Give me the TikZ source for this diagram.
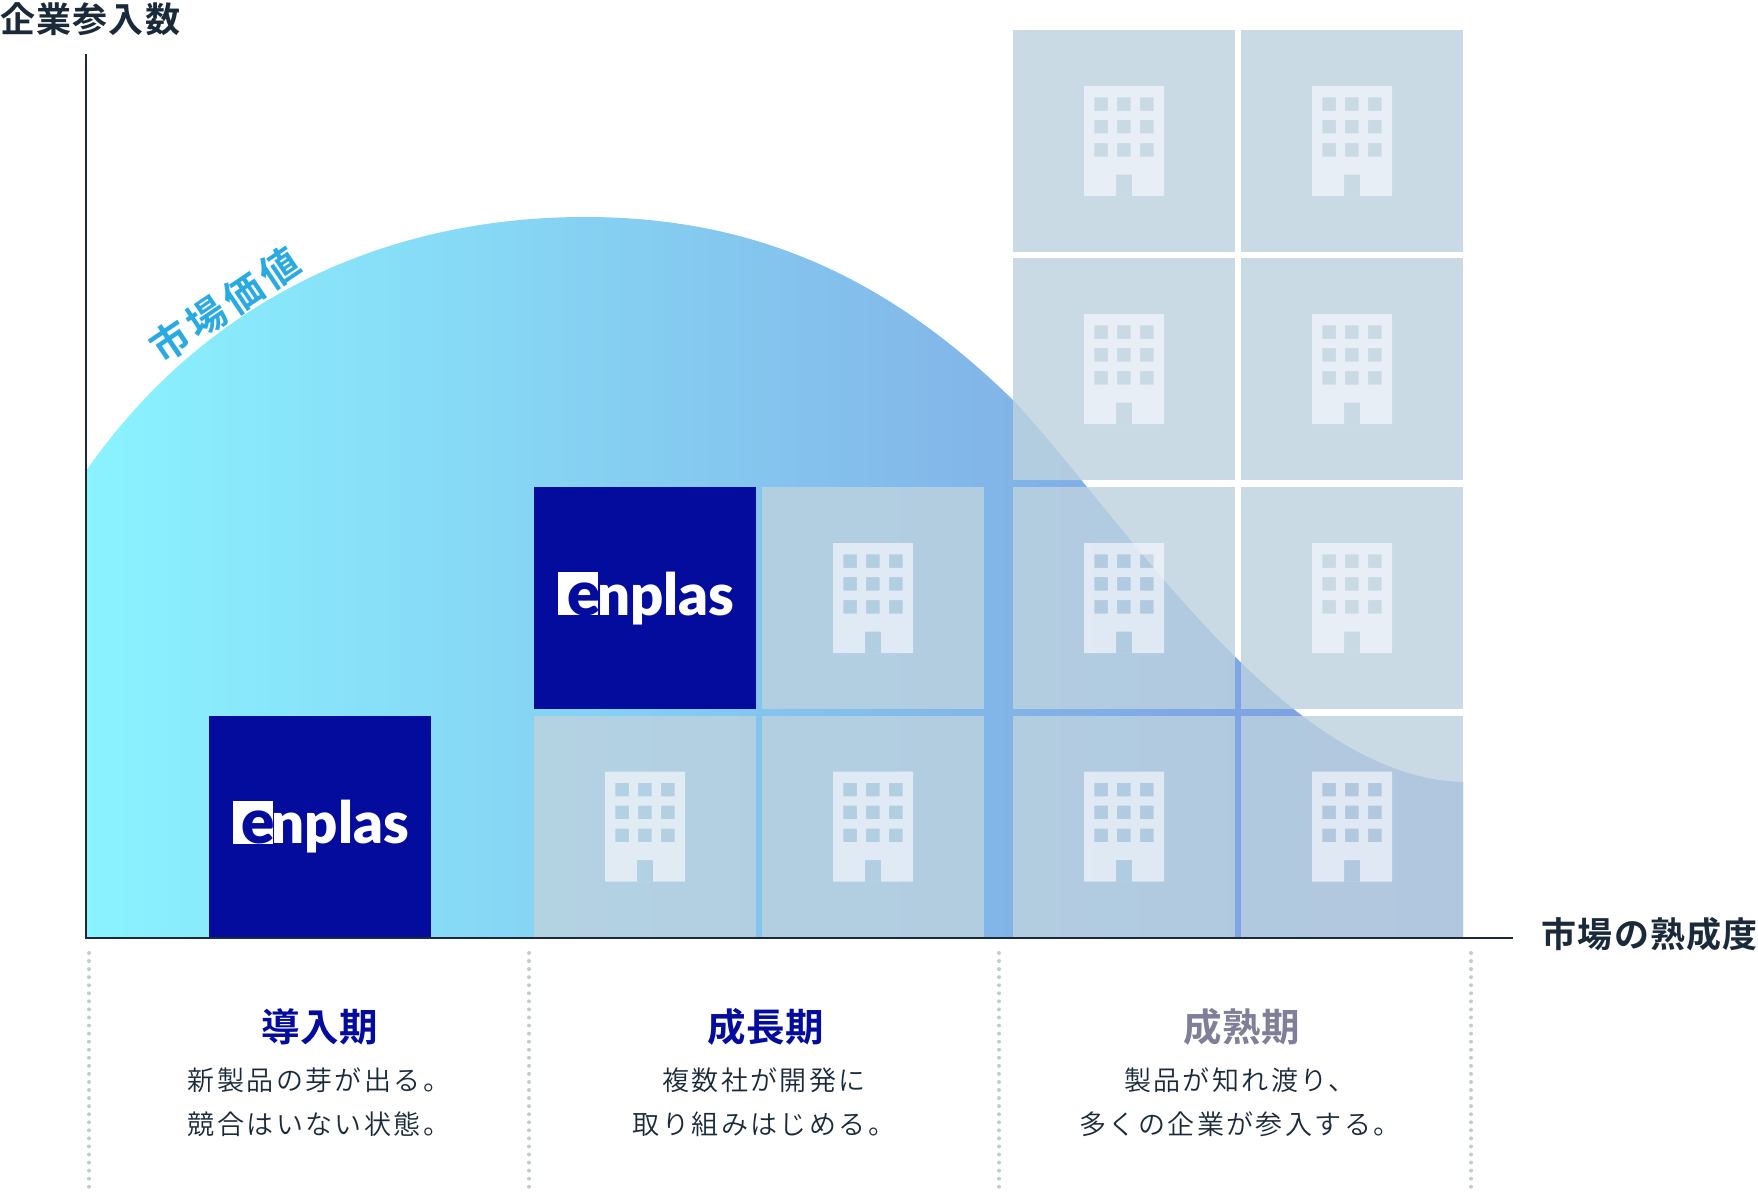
\documentclass[tikz,border=0pt]{standalone}
\usepackage{fontspec}
\usepackage{xcolor}
\usepackage{tikz}
\newfontfamily\jpbody[LetterSpace=9]{Noto Sans CJK JP DemiLight}
\newfontfamily\jphead[LetterSpace=1]{Noto Sans CJK JP Bold}
\newfontfamily\jpaxis[LetterSpace=3.5]{Noto Sans CJK JP Bold}
\newfontfamily\jpcurve[LetterSpace=12]{Noto Sans CJK JP Bold}
\newfontfamily\logofont{Lato Black}
\definecolor{axiscol}{HTML}{1B2A3A}
\definecolor{navycol}{HTML}{030C9C}
\definecolor{greyhead}{HTML}{7F7F99}
\definecolor{curvecol}{HTML}{29ABE2}
\definecolor{dotcol}{HTML}{C0CDD0}
\definecolor{tilecol}{HTML}{BDD2DF}
\definecolor{housecol}{HTML}{F9FAFF}
\definecolor{fadeA}{HTML}{8AF3FF}
\definecolor{fadeB}{HTML}{82B4E8}
\definecolor{fadeC}{HTML}{7A96E0}
\pgfdeclarehorizontalshading{marketfade}{100bp}{color(0bp)=(fadeA); color(25bp)=(fadeA); color(58.5bp)=(fadeB); color(75bp)=(fadeC); color(100bp)=(fadeC)}
\tikzset{
  tile/.style={rectangle,minimum size=222pt,inner sep=0pt,fill=tilecol,fill opacity=.82},
  logotile/.style={rectangle,minimum size=222pt,inner sep=0pt,fill=navycol},
  house/.style={fill=housecol,fill opacity=.65,even odd rule},
  stagedots/.style={dotcol,line width=4pt,line cap=round,dash pattern=on 0pt off 8.06pt},
  stagehead/.style={inner sep=0pt,font=\jphead\fontsize{38.5}{38.5}\selectfont},
  stagetext/.style={inner sep=0pt,align=center,text=axiscol,font=\jpbody\fontsize{27}{44}\selectfont},
  axistext/.style={inner sep=0pt,text=axiscol,font=\jpaxis\fontsize{35}{35}\selectfont},
  logotext/.style={anchor=base west,inner sep=0pt,font=\logofont\fontsize{58}{58}\selectfont},
}
\newcommand{\housetile}[3]{
  \node[tile] (#3) at (#1,#2) {};
  \fill[house,shift={(#1,#2)}] (-40,-55) rectangle (40,55)
    (-8,33.7) rectangle (8,55)
    \foreach \wx in {-29.7,-7,16} {\foreach \wy in {-43.7,-21,2} {(\wx,\wy) rectangle ++(13.5,13.5)}};
}
\newcommand{\logotile}[3]{
  \node[logotile] (#3) at (#1,#2) {};
  \fill[white,shift={(#1,#2)}] (-87,-26) rectangle (-47,17);
  \node[logotext,text=navycol,font=\logofont\fontsize{62}{62}\selectfont] (#3e) at (#1-78,#2+17) {e};
  \node[logotext,text=white] (#3n) at (#1-48,#2+17) {nplas};
}
\begin{document}
\begin{tikzpicture}[x=1pt,y=-1pt]
  \useasboundingbox (0,0) rectangle (1758,1196);
  % market value curve
  \shade[shading=marketfade] (86,938) -- (86,471)
    .. controls (205,300) and (385,217) .. (585,217)
    .. controls (765,217) and (895,285) .. (1013,400)
    .. controls (1125,520) and (1285,778) .. (1463,782)
    -- (1463,938) -- cycle;
  \node[rotate=34,inner sep=0pt,text=curvecol,font=\jpcurve\fontsize{39}{39}\selectfont] (curvelabel) at (225,305) {市場価値};
  % tiles
  \housetile{1124}{141}{ta}
  \housetile{1352}{141}{tb}
  \housetile{1124}{369}{tc}
  \housetile{1352}{369}{td}
  \housetile{873}{598}{te}
  \housetile{1124}{598}{tf}
  \housetile{1352}{598}{tg}
  \housetile{645}{826.5}{th}
  \housetile{873}{826.5}{ti}
  \housetile{1124}{826.5}{tj}
  \housetile{1352}{826.5}{tk}
  \logotile{319.5}{826.5}{la}
  \logotile{645}{598}{lb}
  % axes
  \coordinate (ytop) at (86,54);
  \coordinate (origin) at (86,938);
  \coordinate (xend) at (1513,938);
  \draw[axiscol,line width=2pt] (ytop) -- (origin) -- (xend);
  \node[axistext,anchor=west] (ylabel) at (0,19) {企業参入数};
  \node[axistext,anchor=east] (xlabel) at (1758,934) {市場の熟成度};
  % stages
  \foreach \dx in {89,529,999,1471}
    \draw[stagedots] (\dx,953) -- (\dx,1187);
  \node[stagehead,text=navycol] (intro) at (319.5,1027) {導入期};
  \node[stagehead,text=navycol] (growth) at (765.5,1027) {成長期};
  \node[stagehead,text=greyhead] (mature) at (1241.5,1027) {成熟期};
  \node[stagetext] (introtext) at (319,1102) {新製品の芽が出る。\\競合はいない状態。};
  \node[stagetext] (growthtext) at (764,1102) {複数社が開発に\\取り組みはじめる。};
  \node[stagetext] (maturetext) at (1240,1102) {製品が知れ渡り、\\多くの企業が参入する。};
\end{tikzpicture}
\end{document}
